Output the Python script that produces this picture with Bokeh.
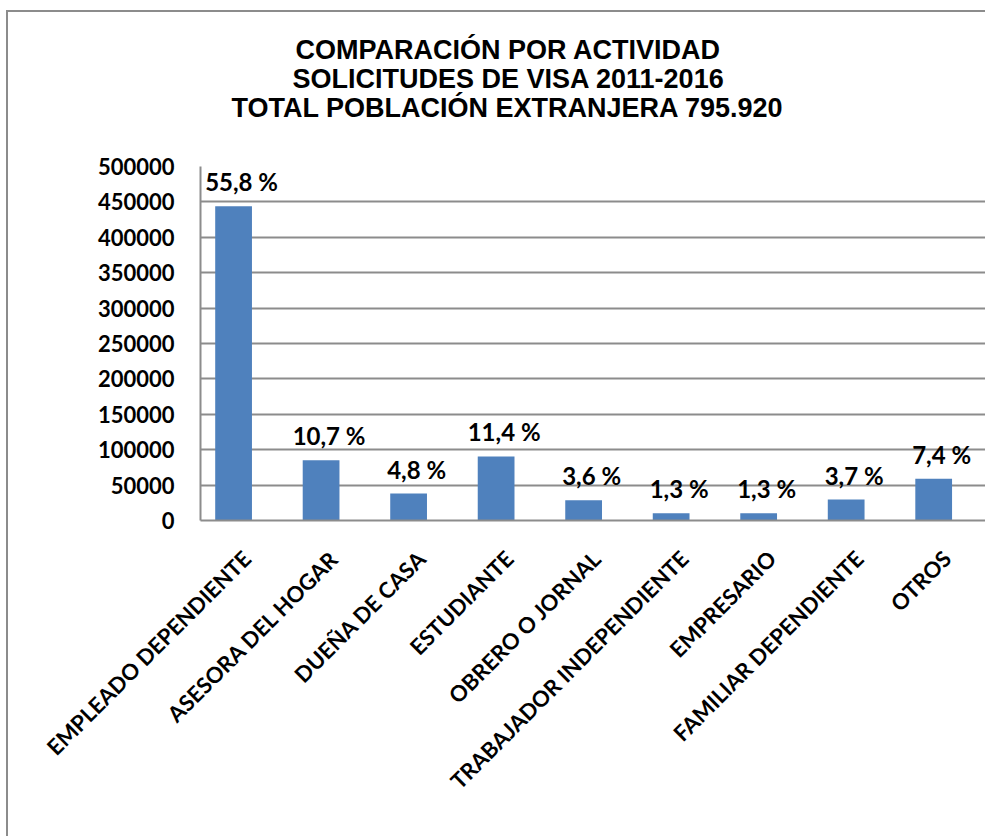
from bokeh.plotting import figure
from bokeh.models import ColumnDataSource, FixedTicker, Title, Range1d, CustomJSTickFormatter
from bokeh.core.properties import value
from bokeh.embed import file_html
from bokeh.resources import INLINE
import math

categories = ["EMPLEADO DEPENDIENTE", "ASESORA DEL HOGAR", "DUEÑA DE CASA", "ESTUDIANTE",
              "OBRERO O JORNAL", "TRABAJADOR INDEPENDIENTE", "EMPRESARIO",
              "FAMILIAR DEPENDIENTE", "OTROS"]
solicitudes = [444000, 85000, 38000, 90500, 28500, 10300, 10300, 29500, 59000]
porcentajes = ["55,8 %", "10,7 %", "4,8 %", "11,4 %", "3,6 %", "1,3 %", "1,3 %", "3,7 %", "7,4 %"]
title_lines = ["COMPARACIÓN POR ACTIVIDAD", "SOLICITUDES DE VISA 2011-2016",
               "TOTAL POBLACIÓN EXTRANJERA 795.920"]
y_ticks = list(range(0, 500001, 50000))

idx = list(range(len(categories)))
src = ColumnDataSource(dict(x=idx, y=solicitudes, pct=porcentajes))

p = figure(width=979, height=826, output_backend="svg", toolbar_location=None,
           x_range=Range1d(-0.378, 8.615), y_range=Range1d(0, 500000),
           min_border_left=192, min_border_right=0, min_border_bottom=318, min_border_top=154,
           styles={"margin-left": "6px", "margin-top": "10px",
                   "border-left": "2px solid #8c8c8c", "border-top": "2px solid #8c8c8c"})
p.outline_line_color = None

# title block is centred on the whole chart area, left of the plot frame's centre
title_shift = [95, 92, 31]
p.add_layout(Title(text=" ", text_font_size="30px", standoff=10), "above")
for t, off in reversed(list(zip(title_lines, title_shift))):
    p.add_layout(Title(text=t, align="left", text_font="Liberation Sans",
                       text_font_size="27px", text_font_style="bold", text_color="black",
                       standoff=-3, offset=off), "above")

p.vbar(x="x", top="y", width=0.42, source=src, fill_color="#4F81BD", line_color=None)
p.text(x="x", y="y", text="pct", source=src, text_align="center", text_baseline="bottom",
       y_offset=-10, x_offset=8, text_font=value("Lato"), text_font_style="bold",
       text_font_size="24px", text_color="black")

# axes: category labels sit slightly right of each bar, as in the original
p.xaxis.ticker = FixedTicker(ticks=[i + 0.15 for i in idx])
p.xaxis.formatter = CustomJSTickFormatter(args=dict(labels=categories),
                                          code="return labels[index];")
p.xaxis.major_label_orientation = math.pi / 4
p.xaxis.major_label_text_font = "Lato"
p.xaxis.major_label_text_font_style = "bold"
p.xaxis.major_label_text_font_size = "22px"
p.xaxis.major_label_text_color = "black"
p.xaxis.major_label_standoff = 34
p.xaxis.major_tick_line_color = None
p.xaxis.major_tick_out = 0
p.xaxis.minor_tick_line_color = None
p.xaxis.axis_line_color = "#8c8c8c"
p.xaxis.axis_line_width = 2

p.yaxis.ticker = FixedTicker(ticks=y_ticks)
p.yaxis.formatter.use_scientific = False
p.yaxis.major_label_text_font = "Lato"
p.yaxis.major_label_text_font_style = "bold"
p.yaxis.major_label_text_font_size = "22px"
p.yaxis.major_label_text_color = "black"
p.yaxis.major_label_standoff = 26
p.yaxis.major_tick_line_color = None
p.yaxis.major_tick_out = 0
p.yaxis.minor_tick_line_color = None
p.yaxis.axis_line_color = "#8c8c8c"
p.yaxis.axis_line_width = 2

p.xgrid.grid_line_color = None
p.ygrid.grid_line_color = "#8c8c8c"
p.ygrid.grid_line_width = 2

open("out.html", "w").write(file_html(p, INLINE))
